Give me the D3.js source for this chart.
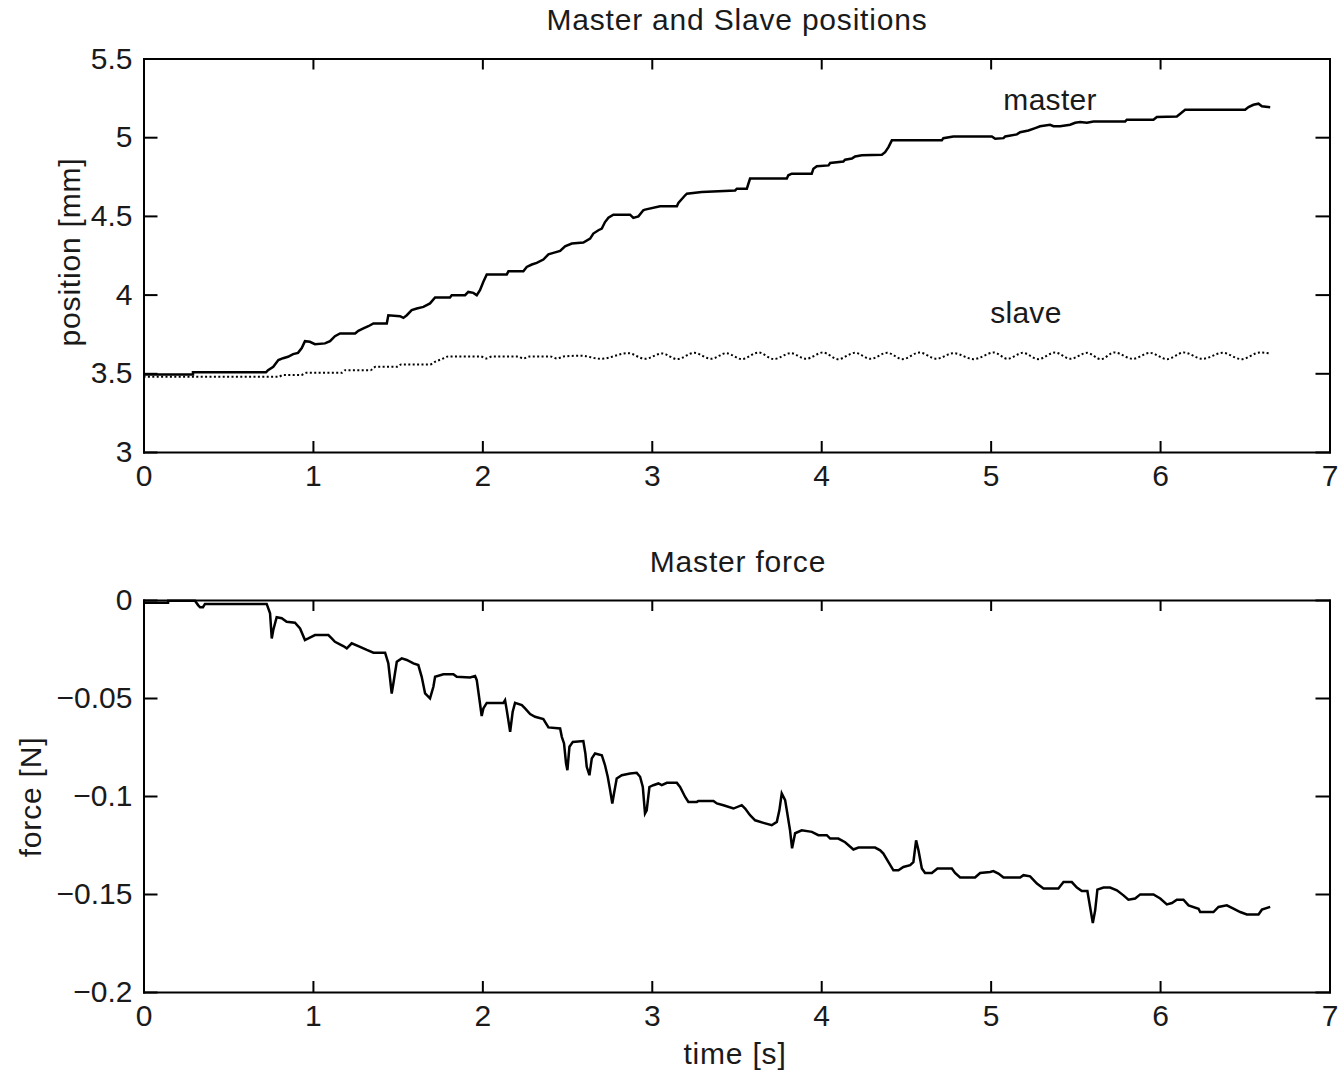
<!DOCTYPE html>
<html>
<head>
<meta charset="utf-8">
<script src="https://cdn.jsdelivr.net/npm/d3@7"></script>
<style>
  body { margin: 0; background: #fff; }
  text { font-family: "Liberation Sans", Arial, sans-serif; }
</style>
</head>
<body>
<div id="chart"></div>
<script>
// ---- data ----
const masterT = [0, 0.292, 0.292, 0.723, 0.735, 0.766, 0.796, 0.824, 0.853, 0.883, 0.912, 0.934, 0.953, 0.982, 1.012,
  1.071, 1.101, 1.130, 1.160, 1.249, 1.268, 1.298, 1.327, 1.357, 1.436, 1.445, 1.514, 1.534, 1.554, 1.583, 1.613,
  1.652, 1.691, 1.721, 1.809, 1.819, 1.898, 1.917, 1.947, 1.967, 1.986, 2.006, 2.026, 2.144, 2.154, 2.242, 2.262,
  2.292, 2.321, 2.360, 2.390, 2.419, 2.459, 2.488, 2.528, 2.596, 2.636, 2.655, 2.685, 2.705, 2.724, 2.744, 2.773,
  2.872, 2.891, 2.921, 2.950, 2.960, 3.049, 3.148, 3.157, 3.197, 3.207, 3.295, 3.492, 3.502, 3.561, 3.580, 3.797,
  3.806, 3.826, 3.944, 3.954, 3.974, 4.043, 4.053, 4.131, 4.141, 4.181, 4.200, 4.240, 4.358, 4.377, 4.397, 4.417,
  4.712, 4.721, 4.780, 5.007, 5.027, 5.076, 5.086, 5.155, 5.174, 5.223, 5.263, 5.292, 5.351, 5.371, 5.410, 5.469,
  5.499, 5.528, 5.568, 5.607, 5.794, 5.804, 5.961, 5.981, 6.099, 6.119, 6.148, 6.502, 6.522, 6.551, 6.581, 6.601, 6.650];
const masterPos = [3.493, 3.493, 3.506, 3.506, 3.520, 3.541, 3.584, 3.596, 3.605, 3.622, 3.630, 3.660, 3.704, 3.700, 3.685,
  3.690, 3.704, 3.736, 3.753, 3.753, 3.770, 3.785, 3.799, 3.817, 3.817, 3.869, 3.863, 3.852, 3.869, 3.901, 3.912,
  3.922, 3.944, 3.982, 3.982, 3.996, 3.996, 4.017, 4.011, 3.996, 4.028, 4.081, 4.128, 4.128, 4.148, 4.148, 4.176,
  4.191, 4.201, 4.223, 4.256, 4.265, 4.277, 4.307, 4.324, 4.331, 4.356, 4.388, 4.409, 4.419, 4.461, 4.489, 4.508,
  4.508, 4.487, 4.497, 4.536, 4.540, 4.561, 4.561, 4.582, 4.631, 4.641, 4.652, 4.662, 4.673, 4.673, 4.737, 4.737,
  4.758, 4.768, 4.768, 4.800, 4.815, 4.821, 4.836, 4.846, 4.857, 4.864, 4.878, 4.885, 4.889, 4.905, 4.937, 4.980,
  4.980, 4.994, 5.005, 5.005, 4.990, 4.994, 5.005, 5.018, 5.032, 5.043, 5.058, 5.069, 5.079, 5.070, 5.069, 5.079,
  5.092, 5.096, 5.092, 5.100, 5.100, 5.111, 5.111, 5.128, 5.132, 5.149, 5.174, 5.174, 5.191, 5.206, 5.213, 5.197, 5.191];

const slaveT = [0, 0.80, 0.82, 0.93, 0.96, 1.17, 1.19, 1.34, 1.37, 1.50, 1.52, 1.69, 1.72, 1.76, 1.80, 1.99, 2.02, 2.06,
  2.21, 2.24, 2.28, 2.40, 2.44, 2.48, 2.58, 2.70, 2.86, 2.96, 3.06, 3.15, 3.25, 3.35, 3.44, 3.53, 3.63, 3.72, 3.82,
  3.91, 4.01, 4.10, 4.20, 4.29, 4.39, 4.48, 4.58, 4.68, 4.78, 4.90, 5.02, 5.10, 5.19, 5.28, 5.38, 5.47, 5.57, 5.65,
  5.73, 5.84, 5.94, 6.04, 6.14, 6.25, 6.37, 6.48, 6.59, 6.65];
const slavePos = [3.478, 3.478, 3.489, 3.489, 3.503, 3.503, 3.520, 3.520, 3.541, 3.541, 3.556, 3.556, 3.573, 3.590, 3.607,
  3.607, 3.594, 3.607, 3.607, 3.594, 3.607, 3.607, 3.594, 3.607, 3.612, 3.592, 3.628, 3.592, 3.626, 3.590, 3.630,
  3.592, 3.628, 3.590, 3.632, 3.590, 3.628, 3.592, 3.632, 3.590, 3.630, 3.592, 3.630, 3.590, 3.632, 3.592, 3.628,
  3.590, 3.632, 3.592, 3.630, 3.590, 3.632, 3.592, 3.630, 3.590, 3.632, 3.592, 3.630, 3.590, 3.632, 3.592, 3.630,
  3.590, 3.632, 3.626];

const forceT = [0, 0.145, 0.146, 0.304, 0.322, 0.334, 0.351, 0.363, 0.727, 0.747, 0.757, 0.766, 0.786, 0.816, 0.845,
  0.894, 0.924, 0.953, 0.973, 1.012, 1.091, 1.111, 1.130, 1.179, 1.200, 1.229, 1.278, 1.318, 1.357, 1.426, 1.445,
  1.465, 1.475, 1.495, 1.524, 1.554, 1.593, 1.622, 1.642, 1.662, 1.691, 1.711, 1.721, 1.770, 1.829, 1.849, 1.927,
  1.957, 1.967, 1.986, 1.996, 2.006, 2.026, 2.124, 2.134, 2.144, 2.164, 2.179, 2.193, 2.233, 2.252, 2.282, 2.311,
  2.360, 2.390, 2.459, 2.469, 2.482, 2.494, 2.502, 2.514, 2.534, 2.596, 2.608, 2.616, 2.632, 2.646, 2.665, 2.705,
  2.724, 2.740, 2.754, 2.767, 2.777, 2.793, 2.823, 2.872, 2.911, 2.931, 2.947, 2.960, 2.970, 2.986, 3.009, 3.039,
  3.059, 3.089, 3.148, 3.167, 3.197, 3.216, 3.266, 3.275, 3.364, 3.384, 3.423, 3.482, 3.531, 3.551, 3.580, 3.610,
  3.659, 3.708, 3.738, 3.753, 3.767, 3.787, 3.800, 3.816, 3.828, 3.846, 3.885, 3.945, 3.983, 4.033, 4.053, 4.101,
  4.141, 4.190, 4.220, 4.318, 4.348, 4.367, 4.397, 4.426, 4.456, 4.485, 4.525, 4.544, 4.560, 4.574, 4.594, 4.613,
  4.653, 4.686, 4.771, 4.790, 4.820, 4.908, 4.938, 4.997, 5.016, 5.046, 5.076, 5.174, 5.194, 5.233, 5.273, 5.312,
  5.400, 5.430, 5.479, 5.509, 5.538, 5.571, 5.587, 5.603, 5.617, 5.630, 5.666, 5.705, 5.745, 5.784, 5.813, 5.853,
  5.883, 5.961, 6.001, 6.040, 6.070, 6.099, 6.138, 6.168, 6.227, 6.237, 6.315, 6.345, 6.394, 6.433, 6.473, 6.512,
  6.581, 6.601, 6.650];
const forceVal = [-0.0014, -0.0014, -0.0004, -0.0004, -0.0026, -0.0037, -0.0037, -0.0020, -0.0020, -0.0068, -0.0196,
  -0.0153, -0.0088, -0.0093, -0.0111, -0.0116, -0.0145, -0.0204, -0.0196, -0.0179, -0.0179, -0.0196, -0.0213, -0.0235,
  -0.0247, -0.0221, -0.0239, -0.0255, -0.0269, -0.0269, -0.0323, -0.0477, -0.0425, -0.0315, -0.0298, -0.0306, -0.0323,
  -0.0332, -0.0392, -0.0477, -0.0502, -0.0443, -0.0392, -0.0379, -0.0379, -0.0392, -0.0395, -0.0388, -0.0409, -0.0528,
  -0.0592, -0.0553, -0.0525, -0.0525, -0.0511, -0.0562, -0.0673, -0.0570, -0.0525, -0.0536, -0.0553, -0.0582, -0.0596,
  -0.0608, -0.0650, -0.0655, -0.0698, -0.0732, -0.0834, -0.0868, -0.0749, -0.0724, -0.0720, -0.0783, -0.0851, -0.0894,
  -0.0808, -0.0783, -0.0792, -0.0843, -0.0902, -0.0970, -0.1038, -0.0987, -0.0911, -0.0894, -0.0885, -0.0882, -0.0902,
  -0.0954, -0.1089, -0.1073, -0.0954, -0.0945, -0.0936, -0.0945, -0.0933, -0.0933, -0.0954, -0.1005, -0.1030, -0.1030,
  -0.1025, -0.1025, -0.1038, -0.1047, -0.1064, -0.1047, -0.1064, -0.1098, -0.1124, -0.1137, -0.1149, -0.1132, -0.1073,
  -0.0987, -0.1021, -0.1089, -0.1175, -0.1267, -0.1190, -0.1175, -0.1183, -0.1200, -0.1200, -0.1217, -0.1217, -0.1236,
  -0.1273, -0.1263, -0.1263, -0.1277, -0.1294, -0.1337, -0.1379, -0.1379, -0.1362, -0.1353, -0.1337, -0.1226, -0.1277,
  -0.1370, -0.1393, -0.1393, -0.1370, -0.1370, -0.1393, -0.1416, -0.1416, -0.1393, -0.1388, -0.1383, -0.1396, -0.1416,
  -0.1416, -0.1404, -0.1410, -0.1447, -0.1472, -0.1472, -0.1439, -0.1439, -0.1467, -0.1485, -0.1485, -0.1566, -0.1648,
  -0.1583, -0.1478, -0.1467, -0.1467, -0.1481, -0.1507, -0.1529, -0.1523, -0.1502, -0.1502, -0.1523, -0.1553, -0.1546,
  -0.1529, -0.1529, -0.1558, -0.1575, -0.1592, -0.1592, -0.1566, -0.1558, -0.1575, -0.1592, -0.1604, -0.1604, -0.1580,
  -0.1566];

const timeTicks = [0, 1, 2, 3, 4, 5, 6, 7];
const posTicks = [3, 3.5, 4, 4.5, 5, 5.5];
const forceTicks = [-0.2, -0.15, -0.1, -0.05, 0];

// ---- layout ----
const width = 1343, height = 1074;
const fs = 30;

const svg = d3.select("#chart").append("svg")
  .attr("width", width)
  .attr("height", height);

const x = d3.scaleLinear().domain([0, 7]).range([143.5, 1329.5]);
const yPos = d3.scaleLinear().domain([3, 5.5]).range([452, 58.5]);
const yForce = d3.scaleLinear().domain([-0.2, 0]).range([992, 600]);
const fmt = d3.format("~g");

function box(y, yTickVals) {
  const g = svg.append("g");
  const [yb, yt] = y.range();
  const [xl, xr] = x.range();
  const parts = [
    g.append("g").attr("transform", `translate(0,${yb})`)
      .call(d3.axisBottom(x).tickValues(timeTicks).tickFormat(fmt).tickSizeInner(-11).tickSizeOuter(0).tickPadding(13)),
    g.append("g").attr("transform", `translate(0,${yt})`)
      .call(d3.axisTop(x).tickValues(timeTicks).tickFormat("").tickSizeInner(-11).tickSizeOuter(0)),
    g.append("g").attr("transform", `translate(${xl},0)`)
      .call(d3.axisLeft(y).tickValues(yTickVals).tickFormat(fmt).tickSizeInner(-14).tickSizeOuter(0).tickPadding(11)),
    g.append("g").attr("transform", `translate(${xr},0)`)
      .call(d3.axisRight(y).tickValues(yTickVals).tickFormat("").tickSizeInner(-14).tickSizeOuter(0))
  ];
  parts.forEach(p => {
    p.attr("color", "#000");
    p.select(".domain").attr("stroke-width", 2).attr("stroke-linecap", "square");
    p.selectAll(".tick line").attr("stroke-width", 2);
    p.selectAll(".tick text").attr("font-size", fs).attr("fill", "#1a1a1a")
      .attr("font-family", '"Liberation Sans", Arial, sans-serif');
  });
  return g;
}

box(yPos, posTicks);
box(yForce, forceTicks);

// ---- lines ----
const masterData = masterT.map((t, i) => [t, masterPos[i]]);
const slaveData = slaveT.map((t, i) => [t, slavePos[i]]);
const forceData = forceT.map((t, i) => [t, forceVal[i]]);

svg.append("path").datum(masterData)
  .attr("fill", "none").attr("stroke", "#000").attr("stroke-width", 2.5)
  .attr("d", d3.line().x(d => x(d[0])).y(d => yPos(d[1])));

svg.append("path").datum(slaveData)
  .attr("fill", "none").attr("stroke", "#000").attr("stroke-width", 2)
  .attr("stroke-dasharray", "2,2.4")
  .attr("d", d3.line().curve(d3.curveMonotoneX).x(d => x(d[0])).y(d => yPos(d[1])));

svg.append("path").datum(forceData)
  .attr("fill", "none").attr("stroke", "#000").attr("stroke-width", 2.5)
  .attr("d", d3.line().x(d => x(d[0])).y(d => yForce(d[1])));

// ---- texts ----
const txt = (s, px, py, opts = {}) => svg.append("text")
  .attr("x", px).attr("y", py)
  .attr("font-size", opts.size || fs)
  .attr("fill", "#1a1a1a")
  .attr("letter-spacing", opts.ls || 0.8)
  .attr("text-anchor", opts.anchor || "middle")
  .attr("transform", opts.rot ? `rotate(-90,${px},${py})` : null)
  .text(s);

txt("Master and Slave positions", 737, 30);
txt("Master force", 738, 572);
txt("time [s]", 735, 1064);
txt("position [mm]", 80, 252, {rot: true});
txt("force [N]", 41, 797, {rot: true});
txt("master", x(5.075), yPos(5.173), {anchor: "start", ls: 0.3});
txt("slave", x(4.997), yPos(3.821), {anchor: "start", ls: 0.3});
</script>
</body>
</html>
